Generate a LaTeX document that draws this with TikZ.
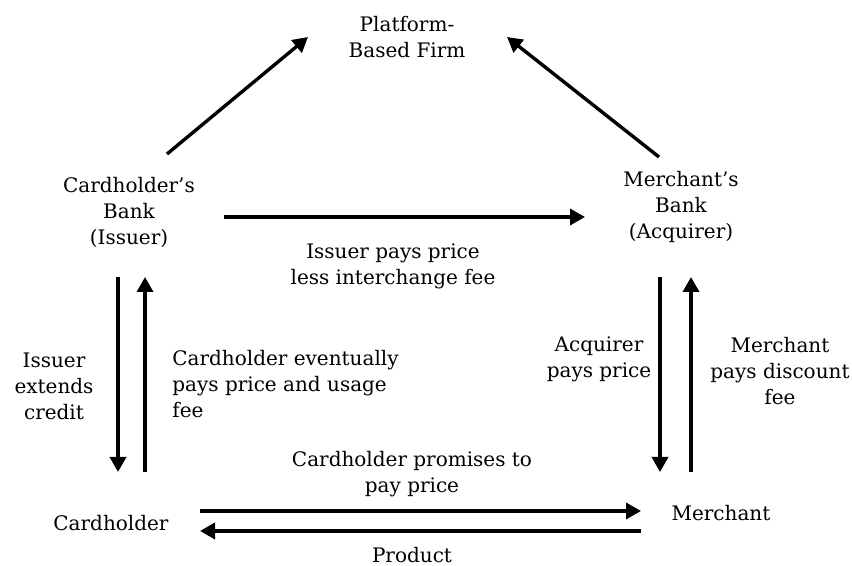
\documentclass[tikz,border=0pt]{standalone}
\usepackage{fontspec}
\setmainfont{DejaVu Serif}
\usetikzlibrary{arrows.meta}
\tikzset{
  lbl/.style={inner sep=0pt, align=center, font=\fontsize{10}{13}\selectfont},
  lbll/.style={inner sep=0pt, align=left, font=\fontsize{10}{13}\selectfont},
  flow/.style={line width=1.7pt, -{Triangle[length=7.5pt,width=8pt]}}
}
\begin{document}
\begin{tikzpicture}[x=0.5pt,y=-0.5pt]
\useasboundingbox (0,0) rectangle (852,566);
% main parties
\node[lbl] (firm) at (407,37) {Platform-\\Based Firm};
\node[lbl] (issuer) at (129,212) {Cardholder’s\\Bank\\(Issuer)};
\node[lbl] (acq) at (681,207) {Merchant’s\\Bank\\(Acquirer)};
\node[lbl] (ch) at (111,523) {Cardholder};
\node[lbl] (mer) at (721,513) {Merchant};
% arrow end points
\coordinate (a1s) at (167,154); \coordinate (a1e) at (308,37);
\coordinate (a2s) at (659,157); \coordinate (a2e) at (507,37);
\coordinate (a3s) at (224,217); \coordinate (a3e) at (585,217);
\coordinate (a4s) at (118,277); \coordinate (a4e) at (118,472);
\coordinate (a5s) at (145,472); \coordinate (a5e) at (145,277);
\coordinate (a6s) at (660,277); \coordinate (a6e) at (660,472);
\coordinate (a7s) at (691,472); \coordinate (a7e) at (691,277);
\coordinate (a8s) at (200,511); \coordinate (a8e) at (641,511);
\coordinate (a9s) at (641,531); \coordinate (a9e) at (200,531);
\draw[flow] (a1s) -- (a1e);
\draw[flow] (a2s) -- (a2e);
\draw[flow] (a3s) -- (a3e);
\draw[flow] (a4s) -- (a4e);
\draw[flow] (a5s) -- (a5e);
\draw[flow] (a6s) -- (a6e);
\draw[flow] (a7s) -- (a7e);
\draw[flow] (a8s) -- (a8e);
\draw[flow] (a9s) -- (a9e);
% labels
\node[lbl] (l3) at (393,266) {Issuer pays price\\less interchange fee};
\node[lbl] (l4) at (54,386) {Issuer\\extends\\credit};
\node[lbll, anchor=west] (l5) at (172,384) {Cardholder eventually\\pays price and usage\\fee};
\node[lbl] (l6) at (599,359) {Acquirer\\pays price};
\node[lbl] (l7) at (780,371) {Merchant\\pays discount\\fee};
\node[lbl] (l8) at (412,474) {Cardholder promises to\\pay price};
\node[lbl] (l9) at (412,555) {Product};
\end{tikzpicture}
\end{document}
